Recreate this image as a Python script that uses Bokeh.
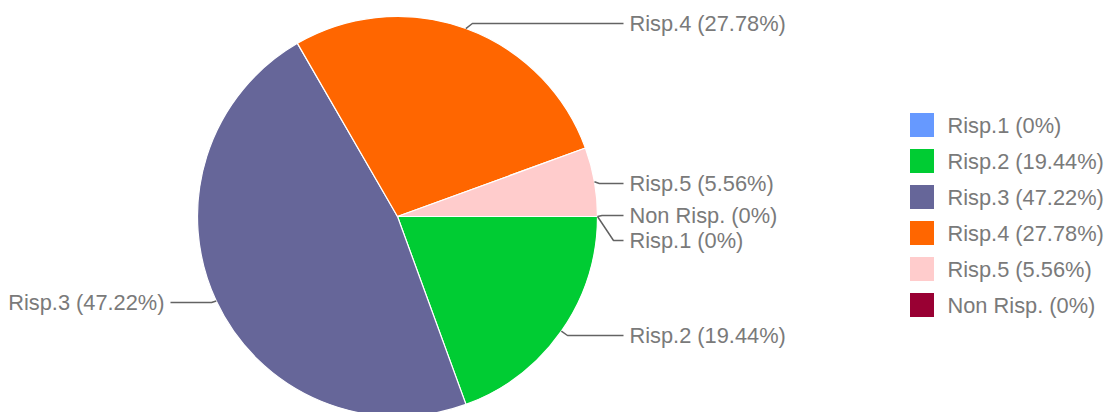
import math
from bokeh.plotting import figure
from bokeh.models import Range1d, ColumnDataSource
from bokeh.embed import file_html
from bokeh.resources import INLINE
from bokeh.core.properties import value

# ---- data ----
categories = ["Risp.1", "Risp.2", "Risp.3", "Risp.4", "Risp.5", "Non Risp."]
percents = [0.0, 19.44, 47.22, 27.78, 5.56, 0.0]
colors = ["#6699ff", "#00cc33", "#666699", "#ff6600", "#ffcccc", "#990033"]
pct_labels = ["0%", "19.44%", "47.22%", "27.78%", "5.56%", "0%"]

# ---- layout (screen pixel coordinates) ----
PW, PH = 1107, 412
FONT = value("Liberation Sans")
FS = "21.8px"
TXT = "#7a7a7a"
LINE = "#636363"

cx, cy_page, R = 397, 216, 200

def Y(py):
    return PH - py

p = figure(width=PW, height=PH, output_backend="svg", toolbar_location=None,
           x_range=Range1d(0, PW), y_range=Range1d(0, PH),
           x_axis_location=None, y_axis_location=None, min_border=0)
p.grid.visible = False
p.outline_line_color = None
p.background_fill_color = "white"

# wedges (clockwise from 3 o'clock)
total = sum(percents)
cum = 0.0
starts, ends, wcols, mids = [], [], [], []
for pc, col in zip(percents, colors):
    a0 = cum / total * 2 * math.pi
    a1 = (cum + pc) / total * 2 * math.pi
    mids.append((a0 + a1) / 2)
    if pc > 0:
        starts.append(-a1)
        ends.append(-a0)
        wcols.append(col)
    cum += pc

src = ColumnDataSource(dict(x=[cx] * len(starts), y=[Y(cy_page)] * len(starts),
                            s=starts, e=ends, c=wcols))
p.wedge(x="x", y="y", radius=R, start_angle="s", end_angle="e", direction="anticlock",
        fill_color="c", line_color="white", line_width=1.2, source=src)

# slice labels with leader lines
label_y = [240, 335, 302, 23, 183, 215]   # screen y of each label
for cat, pl, a, ly in zip(categories, pct_labels, mids, label_y):
    px = cx + R * math.cos(a)
    py = cy_page + R * math.sin(a)
    side = 1 if math.cos(a) >= 0 else -1
    ex = px + side * (4 + abs(ly - py) * 0.5)
    endx = 623 if side > 0 else 170
    p.line([px, ex, endx], [Y(py), Y(ly), Y(ly)], line_color=LINE, line_width=1.5)
    p.text(x=[endx + side * 6], y=[Y(ly)], text=[f"{cat} ({pl})"],
           text_font=FONT, text_font_size=FS, text_color=TXT,
           text_align="left" if side > 0 else "right", text_baseline="middle")

# legend
lx, ly0, step, sq = 921.5, 124.5, 36, 24
for i, (cat, pl, col) in enumerate(zip(categories, pct_labels, colors)):
    yy = Y(ly0 + i * step)
    p.rect(x=[lx], y=[yy], width=sq, height=sq, fill_color=col, line_color=None)
    p.text(x=[947], y=[yy], text=[f"{cat} ({pl})"], text_font=FONT,
           text_font_size=FS, text_color=TXT, text_align="left", text_baseline="middle")

open("out.html", "w").write(file_html(p, INLINE))
